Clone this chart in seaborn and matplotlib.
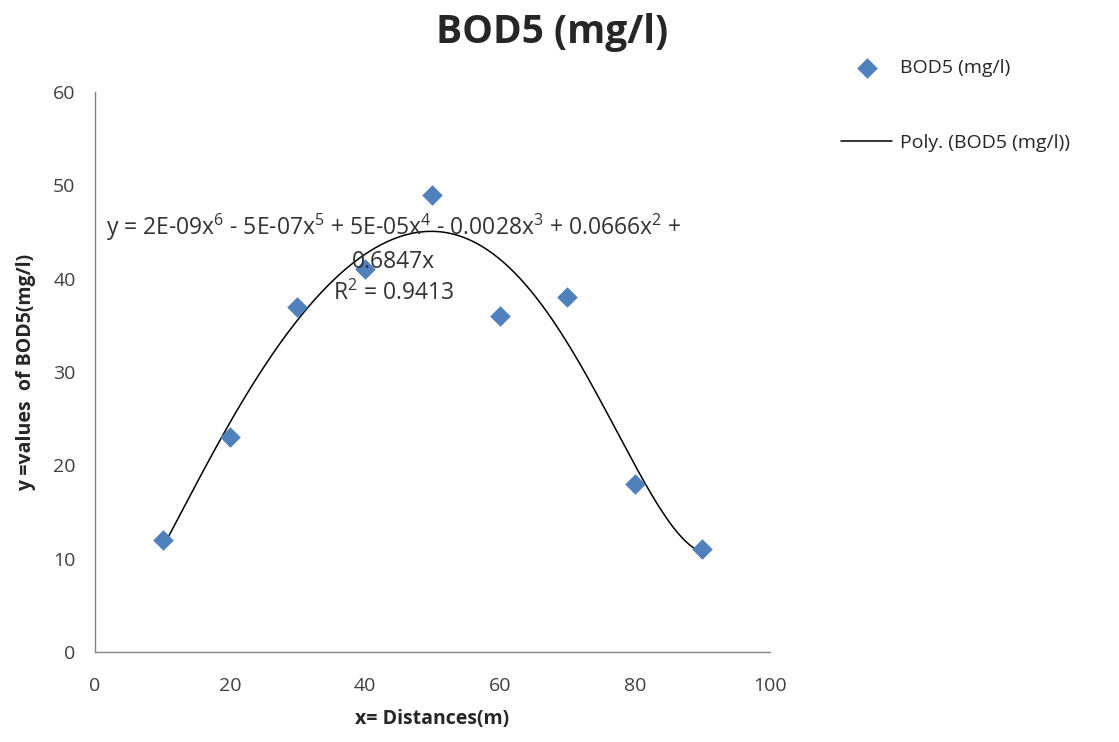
import numpy as np
import pandas as pd
import matplotlib
matplotlib.use("Agg")
import matplotlib.pyplot as plt
import seaborn as sns

# data
distance = [10, 20, 30, 40, 50, 60, 70, 80, 90]
bod5 = [12, 23, 37, 41, 49, 36, 38, 18, 11]

sns.set_style("white")
plt.rcParams['font.family'] = ['Open Sans', 'DejaVu Sans']
plt.rcParams['mathtext.fontset'] = 'custom'
plt.rcParams['mathtext.rm'] = 'Open Sans'
plt.rcParams['mathtext.it'] = 'Open Sans'

df = pd.DataFrame({'x': distance, 'y': bod5})

# 6th order polynomial trendline, intercept fixed at 0 (as in the spreadsheet)
x = np.array(distance, dtype=float)
A = np.column_stack([x ** k for k in range(1, 7)])
coef, *_ = np.linalg.lstsq(A, np.array(bod5, dtype=float), rcond=None)
xs = np.linspace(x.min(), x.max(), 300)
ys = np.column_stack([xs ** k for k in range(1, 7)]) @ coef
trend = pd.DataFrame({'x': xs, 'y': ys})

fig = plt.figure(figsize=(11.19, 7.42), dpi=100)
ax = fig.add_axes([0.0849, 0.1213, 0.6032, 0.7547])

sns.lineplot(data=trend, x='x', y='y', ax=ax, color='black', linewidth=1.1,
             label='Poly. (BOD5 (mg/l))', zorder=2)
sns.scatterplot(data=df, x='x', y='y', ax=ax, marker='D', s=110, color='#4F81BD',
                edgecolor='#4F81BD', linewidth=0, label='BOD5 (mg/l)', zorder=3)

ax.set_xlim(0, 100)
ax.set_ylim(0, 60)
ax.set_xticks(range(0, 101, 20))
ax.set_yticks(range(0, 61, 10))
ax.tick_params(axis='both', length=0, labelsize=14, colors='#404040')
ax.tick_params(axis='y', pad=14)
ax.tick_params(axis='x', pad=18)
for s in ['top', 'right']:
    ax.spines[s].set_visible(False)
for s in ['left', 'bottom']:
    ax.spines[s].set_color('#868686')
    ax.spines[s].set_linewidth(1)

ax.set_xlabel('x= Distances(m)', fontsize=14, fontweight='bold', labelpad=10,
              color='#262626')
ax.set_ylabel('y =values  of BOD5(mg/l)', fontsize=14, fontweight='bold', labelpad=12,
              color='#262626')
fig.suptitle('BOD5 (mg/l)', fontsize=28, fontweight='bold', x=0.493, y=0.982)

eq = ('y = 2E-09x$^{6}$ - 5E-07x$^{5}$ + 5E-05x$^{4}$ - 0.0028x$^{3}$ + 0.0666x$^{2}$ +\n'
      '0.6847x\nR$^{2}$ = 0.9413')
ax.text(44.2, 42.1, eq, ha='center', va='center', fontsize=16.5, linespacing=1.38,
        color='#333333', multialignment='center')

handles, labels = ax.get_legend_handles_labels()
ax.legend([handles[1], handles[0]], [labels[1], labels[0]], loc='upper left',
          bbox_to_anchor=(0.752, 0.921), bbox_transform=fig.transFigure,
          frameon=False, fontsize=14, handlelength=2.6, labelspacing=2.95,
          handletextpad=0.4, borderpad=0, borderaxespad=0)

fig.savefig('out.png', dpi=100)
